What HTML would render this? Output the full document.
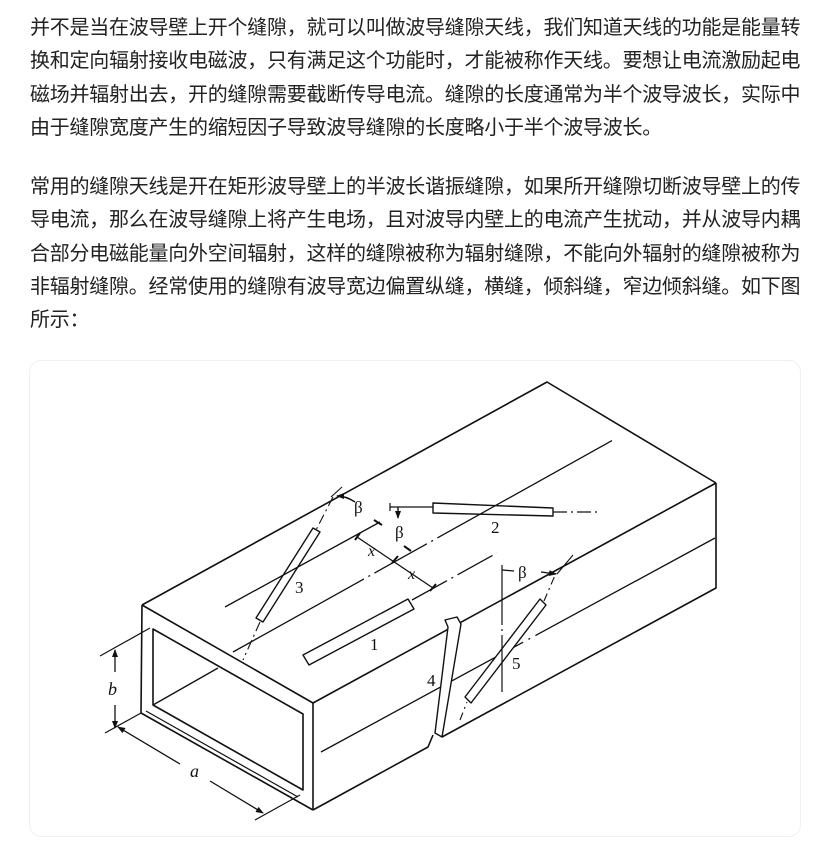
<!DOCTYPE html>
<html><head><meta charset="utf-8"><style>
html,body{margin:0;padding:0;background:#fff;}
body{width:831px;height:857px;position:relative;overflow:hidden;}
.t{position:absolute;left:30px;font-family:"Liberation Sans","Noto Sans CJK SC",sans-serif;font-size:20px;color:#222;letter-spacing:-0.25px;white-space:nowrap;line-height:33.3px;}
.card{position:absolute;left:29px;top:360px;width:770px;height:475px;border:1px solid #f0f0f0;border-radius:12px;}
svg{position:absolute;left:0;top:0;}
</style></head><body>
<div class="t" style="top:12px">并不是当在波导壁上开个缝隙，就可以叫做波导缝隙天线，我们知道天线的功能是能量转<br>换和定向辐射接收电磁波，只有满足这个功能时，才能被称作天线。要想让电流激励起电<br>磁场并辐射出去，开的缝隙需要截断传导电流。缝隙的长度通常为半个波导波长，实际中<br>由于缝隙宽度产生的缩短因子导致波导缝隙的长度略小于半个波导波长。</div>
<div class="t" style="top:171px">常用的缝隙天线是开在矩形波导壁上的半波长谐振缝隙，如果所开缝隙切断波导壁上的传<br>导电流，那么在波导缝隙上将产生电场，且对波导内壁上的电流产生扰动，并从波导内耦<br>合部分电磁能量向外空间辐射，这样的缝隙被称为辐射缝隙，不能向外辐射的缝隙被称为<br>非辐射缝隙。经常使用的缝隙有波导宽边偏置纵缝，横缝，倾斜缝，窄边倾斜缝。如下图<br>所示：</div>
<div class="card"></div>
<svg width="831" height="857" viewBox="0 0 831 857">
<defs><marker id="ar" markerWidth="8" markerHeight="6" refX="7" refY="3" orient="auto" markerUnits="userSpaceOnUse"><path d="M0,0 L8,3 L0,6z" fill="#111"/></marker></defs>
<g fill="none" stroke="#111" stroke-width="1.6" stroke-linejoin="round">
<path d="M142,605 L547,382 L716,483"/>
<path d="M142,605 L313,703 L716,483"/>
<path d="M716,483 L716,588 L442,737"/>
<path d="M433,735 L428,747 L313,810"/>
<path d="M313,703 L313,810"/>
<path d="M142,605 L141,713 L313,810"/>
<path d="M153,629 L303,714 L303,790 L153,705 Z"/>
<path d="M146,711 L298,797" stroke-width="1.2"/>
<path d="M153,705 L218,668" stroke-width="1.3"/>
<path d="M225,607 L380,522" stroke-width="1.3"/>
<path d="M233,652 L613,440" stroke-width="1.3" stroke-dasharray="150 5 2 5 60 5 2 5 200"/>
<path d="M412,600 L497,553" stroke-width="1.3" stroke-dasharray="40 5 2 5"/>
<path d="M321,752 L715,538" stroke-width="1.3" stroke-dasharray="230 6 2 6 300"/>
<path d="M303,655 L408,599 L414,609 L309,665 Z" stroke-width="1.4" fill="#fff"/>
<path d="M433,503 L553,508 L553,516 L433,513 Z" stroke-width="1.4"/>
<path d="M553,512 L597,512" stroke-width="1.2" stroke-dasharray="14 4 2 4"/>
<path d="M390,507 L433,507" stroke-width="1.2"/>
<path d="M390,503 L390,511" stroke-width="1.2"/>
<path d="M398,507 L398,518" stroke-width="1.4" marker-end="url(#ar)"/>
<path d="M404,546 L411,551" stroke-width="2"/>
<path d="M256,618 L313,528 L320,532 L263,622 Z" stroke-width="1.4"/>
<path d="M333,497 L316,530 M260,622 L243,660" stroke-width="1.1" stroke-dasharray="10 4 2 4"/>
<path d="M331,497 L342,487" stroke-width="1.1"/>
<path d="M355,502 Q346,496 337,496" stroke-width="1.4" marker-end="url(#ar)"/>
<path d="M374,520 L382,525" stroke-width="2"/>
<path d="M357,537 L433,588" stroke-width="1.3"/>
<path d="M355,540 L360,533 M392,563 L398,556 M430,591 L436,584" stroke-width="2"/>
<path d="M448,627 L445,620 L457,617 L461,624 L442,737 L435,733 Z" stroke-width="1.4" fill="#fff"/>
<path d="M465,697 L540,599 L546,605 L471,703 Z" stroke-width="1.4" fill="#fff"/>
<path d="M460,720 L467,702 M544,601 L556,573" stroke-width="1.1" stroke-dasharray="8 4 2 4"/>
<path d="M502,565 L502,692" stroke-width="1.2" stroke-dasharray="60 4 2 4"/>
<path d="M502,570 L514,571" stroke-width="1.3"/>
<path d="M541,572 L556,574" stroke-width="1.3" marker-end="url(#ar)"/>
<path d="M573,555 L557,574" stroke-width="1.1"/>
<path d="M100,656 L150,628 M105,733 L141,713" stroke-width="1.2"/>
<path d="M115,672 L115,650" stroke-width="1.3" marker-end="url(#ar)"/>
<path d="M115,705 L115,728" stroke-width="1.3" marker-end="url(#ar)"/>
<path d="M180,764 L118,727" stroke-width="1.3" marker-end="url(#ar)"/>
<path d="M210,781 L263,813" stroke-width="1.3" marker-end="url(#ar)"/>
<path d="M255,820 L300,795" stroke-width="1.2"/>
</g>
<g font-family="Liberation Serif, serif" font-size="17" fill="#111">
<text x="370" y="650">1</text>
<text x="491" y="533">2</text>
<text x="295" y="593">3</text>
<text x="427" y="686">4</text>
<text x="512" y="669">5</text>
<text x="354" y="513" font-size="17">β</text>
<text x="395" y="538" font-size="17">β</text>
<text x="518" y="578" font-size="17">β</text>
<text x="368" y="556" font-style="italic" font-size="16">x</text>
<text x="408" y="579" font-style="italic" font-size="16">x</text>
<text x="108" y="695" font-style="italic" font-size="18">b</text>
<text x="190" y="777" font-style="italic" font-size="18">a</text>
</g>
</svg>
</body></html>
